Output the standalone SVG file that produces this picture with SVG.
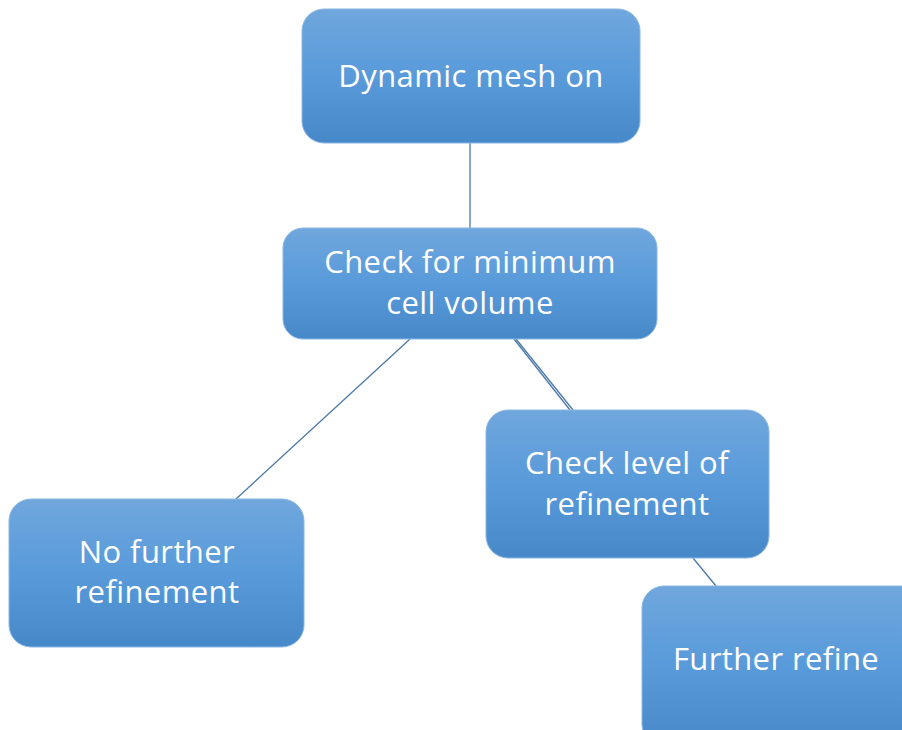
<svg xmlns="http://www.w3.org/2000/svg" width="902" height="730" viewBox="0 0 902 730">
<defs>
<linearGradient id="g" x1="0" y1="0" x2="0" y2="1">
<stop offset="0" stop-color="#70a7dd"/>
<stop offset="0.5" stop-color="#589ada"/>
<stop offset="1" stop-color="#4788c9"/>
</linearGradient>
</defs>
<style>
.box{fill:url(#g);stroke:#8ab6e3;stroke-width:1}
.t{font-family:"Open Sans","Liberation Sans",sans-serif;font-size:31px;letter-spacing:0.4px;fill:#fff;text-anchor:middle}
.c{stroke:#4a78a8;stroke-width:1.3;fill:none}
</style>
<g id="connectors">
<line class="c" x1="470" y1="143" x2="470" y2="228"/>
<line class="c" x1="410" y1="339" x2="236" y2="499"/>
<line class="c" x1="514" y1="339" x2="570" y2="410"/>
<line class="c" x1="516" y1="339" x2="573" y2="410"/>
<line class="c" x1="693" y1="558" x2="716" y2="586"/>
</g>
<g id="n1">
<rect class="box" x="302" y="9" width="338" height="134" rx="22"/>
<text class="t" x="471" y="87">Dynamic mesh on</text>
</g>
<g id="n2">
<rect class="box" x="283" y="228" width="374" height="111" rx="20"/>
<text class="t" x="470" y="273">Check for minimum</text>
<text class="t" x="470" y="314">cell volume</text>
</g>
<g id="n3">
<rect class="box" x="486" y="410" width="283" height="148" rx="22"/>
<text class="t" x="627" y="474">Check level of</text>
<text class="t" x="627" y="515">refinement</text>
</g>
<g id="n4">
<rect class="box" x="642" y="586" width="290" height="160" rx="22"/>
<text class="t" x="776" y="670">Further refine</text>
</g>
<g id="n5">
<rect class="box" x="9" y="499" width="295" height="148" rx="22"/>
<text class="t" x="157" y="563">No further</text>
<text class="t" x="157" y="603">refinement</text>
</g>
</svg>
